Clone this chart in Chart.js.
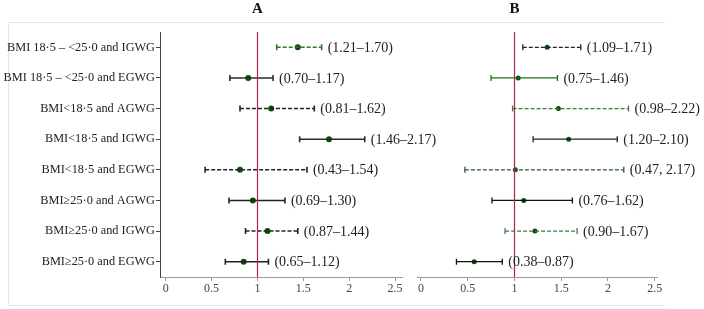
<!DOCTYPE html>
<html>
<head>
<meta charset="utf-8">
<script src="https://cdn.jsdelivr.net/npm/chart.js@4.4.1/dist/chart.umd.min.js"></script>
<style>
  body { margin: 0; background: #fff; }
  #wrap { position: relative; width: 704px; height: 309px; overflow: hidden; }
  canvas { position: absolute; top: 0; }
  #chartA { left: 0; }
  #chartB { left: 410px; }
  .frame { position: absolute; top: 22px; height: 282px; border: 1px solid #e6e6e6; }
  #frameA { left: 8px; width: 400px; border-right: none; }
  #frameB { left: 410px; width: 255px; border-left: none; border-right: none; }
</style>
</head>
<body>
<div id="wrap">
  <div class="frame" id="frameA"></div>
  <div class="frame" id="frameB"></div>
  <canvas id="chartA" width="704" height="309"></canvas>
  <canvas id="chartB" width="294" height="309"></canvas>
</div>
<script>
var categories = [
  "BMI 18\u00b75 \u2013 <25\u00b70 and IGWG",
  "BMI 18\u00b75 \u2013 <25\u00b70 and EGWG",
  "BMI<18\u00b75 and AGWG",
  "BMI<18\u00b75 and IGWG",
  "BMI<18\u00b75 and EGWG",
  "BMI\u226525\u00b70 and AGWG",
  "BMI\u226525\u00b70 and IGWG",
  "BMI\u226525\u00b70 and EGWG"
];
var xTickValues = [0, 0.5, 1, 1.5, 2, 2.5];

// panel A
var estA = [1.44, 0.90, 1.15, 1.78, 0.81, 0.95, 1.11, 0.85];
var loA = [1.21, 0.70, 0.81, 1.46, 0.43, 0.69, 0.87, 0.65];
var hiA = [1.70, 1.17, 1.62, 2.17, 1.54, 1.30, 1.44, 1.12];
var ciTextA = ["(1.21\u20131.70)", "(0.70\u20131.17)", "(0.81\u20131.62)", "(1.46\u20132.17)",
  "(0.43\u20131.54)", "(0.69\u20131.30)", "(0.87\u20131.44)", "(0.65\u20131.12)"];

// panel B
var estB = [1.35, 1.04, 1.47, 1.58, 1.01, 1.10, 1.22, 0.57];
var loB = [1.09, 0.75, 0.98, 1.20, 0.47, 0.76, 0.90, 0.38];
var hiB = [1.71, 1.46, 2.22, 2.10, 2.17, 1.62, 1.67, 0.87];
var ciTextB = ["(1.09\u20131.71)", "(0.75\u20131.46)", "(0.98\u20132.22)", "(1.20\u20132.10)",
  "(0.47, 2.17)", "(0.76\u20131.62)", "(0.90\u20131.67)", "(0.38\u20130.87)"];

// line styles per row
var dashedA = [true, false, true, false, true, false, true, false];
var colorA = ["#2f7a2f", "#2b2b2b", "#222", "#2b2b2b", "#222", "#222", "#222", "#222"];
var dashedB = [true, false, true, false, true, false, true, false];
var colorB = ["#222", "#17701a", "#3c7f3c", "#222", "#2f5a2f", "#111", "#3c7f3c", "#111"];

var serif = "'Liberation Serif', 'Times New Roman', serif";

function buildDatasets(lo, hi, est, dashed, colors, lw, capR, dotR) {
  var ds = [];
  for (var i = 0; i < categories.length; i++) {
    ds.push({
      data: [{ x: lo[i], y: categories[i] }, { x: hi[i], y: categories[i] }],
      borderColor: colors[i],
      borderWidth: lw,
      borderDash: dashed[i] ? [4, 2] : [],
      pointStyle: "line",
      pointRotation: 90,
      pointRadius: capR,
      pointBorderColor: colors[i],
      pointBorderWidth: lw
    });
  }
  ds.push({
    data: est.map(function (v, i) { return { x: v, y: categories[i] }; }),
    showLine: false,
    pointStyle: "circle",
    pointRadius: dotR,
    pointBackgroundColor: "#0b4d0b",
    pointBorderColor: "#0b4d0b",
    pointBorderWidth: 0
  });
  return ds;
}

// red reference line, title and interval labels
function overlay(title, ciText, hi) {
  return {
    id: "overlay" + title,
    afterDatasetsDraw: function (chart) {
      var ctx = chart.ctx, xs = chart.scales.x, ys = chart.scales.y, area = chart.chartArea;
      var x1 = Math.round(xs.getPixelForValue(1)) + 0.5;
      ctx.save();
      ctx.setLineDash([]);
      ctx.strokeStyle = "#b0244f";
      ctx.lineWidth = 1.2;
      ctx.beginPath();
      ctx.moveTo(x1, area.top);
      ctx.lineTo(x1, area.bottom);
      ctx.stroke();
      ctx.fillStyle = "#111";
      ctx.font = "bold 15px " + serif;
      ctx.textAlign = "center";
      ctx.textBaseline = "middle";
      ctx.fillText(title, x1, 9);
      ctx.font = "14px " + serif;
      ctx.textAlign = "left";
      ctx.fillStyle = "#222";
      for (var i = 0; i < categories.length; i++) {
        ctx.fillText(ciText[i], xs.getPixelForValue(hi[i]) + 6, ys.getPixelForValue(i) + 1);
      }
      ctx.restore();
    }
  };
}

function xAxis(min, max, color) {
  return {
    type: "linear",
    min: min,
    max: max,
    afterBuildTicks: function (s) { s.ticks = xTickValues.map(function (v) { return { value: v }; }); },
    afterFit: function (s) { s.height = 32; },
    grid: { drawOnChartArea: false, drawTicks: true, tickLength: 4, color: color },
    border: { color: color },
    ticks: {
      font: { family: serif, size: 12 },
      color: "#444",
      padding: 1,
      maxRotation: 0,
      callback: function (v) { return String(v); }
    }
  };
}

new Chart(document.getElementById("chartA"), {
  type: "line",
  data: { labels: categories, datasets: buildDatasets(loA, hiA, estA, dashedA, colorA, 1.6, 3, 3) },
  options: {
    responsive: false,
    animation: false,
    devicePixelRatio: 1,
    layout: { padding: { top: 32, right: 302, left: 0, bottom: 0 } },
    plugins: { legend: { display: false }, tooltip: { enabled: false } },
    scales: {
      x: xAxis(-0.062, 2.576, "#9a9a9a"),
      y: {
        type: "category",
        labels: categories,
        offset: true,
        afterFit: function (s) { s.width = 160; },
        grid: { drawOnChartArea: false, drawTicks: true, tickLength: 4, color: "#444" },
        border: { color: "#444" },
        ticks: { font: { family: serif, size: 12.3 }, color: "#222", padding: 1 }
      }
    }
  },
  plugins: [overlay("A", ciTextA, hiA)]
});

new Chart(document.getElementById("chartB"), {
  type: "line",
  data: { labels: categories, datasets: buildDatasets(loB, hiB, estB, dashedB, colorB, 1.3, 3, 2.5) },
  options: {
    responsive: false,
    animation: false,
    devicePixelRatio: 1,
    layout: { padding: { top: 32, right: 47, left: 7, bottom: 0 } },
    plugins: { legend: { display: false }, tooltip: { enabled: false } },
    scales: {
      x: xAxis(-0.042, 2.525, "#9a9a9a"),
      y: { type: "category", labels: categories, offset: true, display: false }
    }
  },
  plugins: [overlay("B", ciTextB, hiB)]
});
</script>
</body>
</html>
